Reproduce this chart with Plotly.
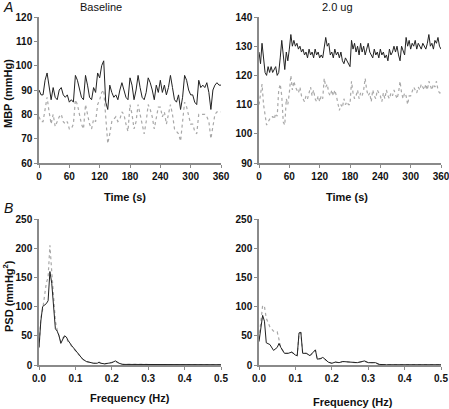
import numpy as np
import plotly.graph_objects as go

# ---------------- data ----------------
time_base = np.arange(0, 361, 4)
base_solid = [90,88,88,94,97,91,86,91,87,86,
              90,91,88,87,88,85,86,85,96,94,
              90,87,86,96,92,87,86,91,89,97,
              95,100,102,85,82,92,89,87,88,86,
              90,93,90,87,86,95,92,86,90,96,
              91,87,86,89,95,93,90,86,92,89,
              94,89,92,88,91,96,91,86,85,88,
              82,87,96,94,90,88,88,85,84,94,
              91,92,91,93,89,82,90,92,93,92,
              92]
base_dot = [79,77,77,83,87,81,76,80,75,77,
            79,80,77,76,77,74,74,76,86,84,
            80,76,74,84,80,76,74,78,77,84,
            86,89,90,77,68,72,77,78,79,77,
            78,81,80,76,73,84,80,74,77,84,
            80,75,72,77,84,82,79,74,78,83,
            83,79,81,76,80,84,80,74,73,72,
            69,76,85,83,79,76,76,73,72,80,
            80,80,80,79,77,70,76,80,81,81,
            81]

time_dose = np.arange(0, 361, 3)
dose_solid = [128,124,131,125,121,120,123,121,123,121,
              122,123,120,121,126,132,127,122,128,125,
              129,134,130,132,130,131,129,130,128,129,
              127,128,126,129,127,128,126,129,127,128,
              126,127,126,129,133,130,131,127,128,126,
              129,127,128,126,128,125,124,126,125,124,
              123,132,129,131,128,130,127,131,128,130,
              127,129,131,128,127,126,129,127,128,126,
              129,127,128,126,127,125,129,127,128,130,
              128,130,127,125,130,128,127,133,130,132,
              129,131,130,132,129,131,130,129,131,130,
              129,131,134,130,131,129,132,131,133,130,
              129]
dose_dot = [110,113,117,110,106,103,104,105,105,106,
            105,107,106,115,117,113,104,103,112,110,
            114,120,115,118,116,115,114,116,113,112,
            111,113,112,114,116,113,115,112,111,113,
            111,113,112,119,116,117,114,113,115,113,
            115,113,111,108,110,109,112,110,111,110,
            110,118,114,112,113,115,112,114,113,115,
            119,115,113,114,111,115,113,112,115,114,
            113,111,114,112,115,113,112,114,113,115,
            113,112,114,118,114,112,114,113,110,113,
            113,115,116,115,114,116,115,117,116,115,
            117,115,118,116,115,117,116,118,115,114,
            114]

freq_base = [0,0.005,0.01,0.02,0.025,0.03,0.035,0.04,0.045,0.05,0.055,0.06,0.065,0.07,0.075,
             0.08,0.09,0.1,0.11,0.12,0.13,0.14,0.15,0.16,0.165,0.17,0.18,0.19,0.2,0.21,0.22,
             0.23,0.25,0.3,0.35,0.4,0.45,0.5]
psd_base_solid = [30,75,100,105,110,160,140,100,62,58,50,37,45,50,48,
                  42,33,25,17,10,6,4,3,3,5,3,2,3,4,7,3,
                  1,1,1,0.8,0.5,0.5,0.5]
psd_base_dot = [30,80,95,140,150,205,160,110,75,60,50,40,46,48,46,
                40,32,24,16,10,6,4,3,3,4,3,2,3,4,6,3,
                1,1,1,0.8,0.5,0.5,0.5]

freq_dose = [0,0.005,0.01,0.015,0.02,0.03,0.04,0.05,0.055,0.06,0.07,0.08,0.09,0.1,0.105,
             0.11,0.115,0.12,0.13,0.14,0.15,0.155,0.16,0.17,0.175,0.18,0.19,0.2,0.21,0.22,
             0.23,0.25,0.27,0.29,0.3,0.32,0.33,0.35,0.4,0.45,0.5]
psd_dose_solid = [40,60,85,75,38,35,25,30,37,30,20,20,22,17,16,
                  55,56,20,20,16,22,26,10,11,13,11,5,3,5,4,
                  6,5,4,7,4,4,1,0.5,0.5,0.5,0.5]
psd_dose_dot = [45,80,102,100,80,65,58,57,40,30,20,20,22,17,16,
                54,55,20,20,16,21,25,10,11,12,10,5,3,5,4,
                6,5,4,6,4,4,1,0.5,0.5,0.5,0.5]

# ---------------- figure ----------------
W, H = 449, 409
def px_x(p): return p / W
def px_y(p): return 1 - p / H

FONT = "Liberation Sans, Arial"
SOLID = dict(color="#222222", width=1)
DOT = dict(color="#a8a8a8", width=1.2, dash="dot")

fig = go.Figure()
panels = [
    ("x", "y", time_base, base_solid, base_dot),
    ("x2", "y2", time_dose, dose_solid, dose_dot),
    ("x3", "y3", freq_base, psd_base_solid, psd_base_dot),
    ("x4", "y4", freq_dose, psd_dose_solid, psd_dose_dot),
]
for xa, ya, xs, s1, s2 in panels:
    fig.add_trace(go.Scatter(x=xs, y=s2, mode="lines", line=DOT, xaxis=xa, yaxis=ya,
                             showlegend=False, hoverinfo="skip"))
    fig.add_trace(go.Scatter(x=xs, y=s1, mode="lines", line=SOLID, xaxis=xa, yaxis=ya,
                             showlegend=False, hoverinfo="skip"))

tickfont = dict(family=FONT, size=10, color="#111", weight="bold")
axis_common = dict(showgrid=False, zeroline=False, showline=True, linecolor="#8a8a8a", linewidth=1.5,
                   ticks="outside", ticklen=3, tickcolor="#8a8a8a", tickwidth=1, tickfont=tickfont,
                   automargin=False, ticklabeloverflow="allow")

xl = (px_x(39), px_x(221))
xr = (px_x(259), px_x(441))
yt = (px_y(163), px_y(17))
yb = (px_y(365), px_y(219))

fig.update_layout(
    width=W, height=H, margin=dict(l=0, r=0, t=0, b=0),
    paper_bgcolor="white", plot_bgcolor="white",
    xaxis=dict(domain=xl, anchor="y", range=[0, 360], tickvals=[0,60,120,180,240,300,360], **axis_common),
    yaxis=dict(domain=yt, anchor="x", range=[60, 120], dtick=10, **axis_common),
    xaxis2=dict(domain=xr, anchor="y2", range=[0, 360], tickvals=[0,60,120,180,240,300,360], **axis_common),
    yaxis2=dict(domain=yt, anchor="x2", range=[90, 140], dtick=10, **axis_common),
    xaxis3=dict(domain=xl, anchor="y3", range=[0, 0.5], dtick=0.1, tickformat=".1f", **axis_common),
    yaxis3=dict(domain=yb, anchor="x3", range=[0, 250], dtick=50, **axis_common),
    xaxis4=dict(domain=xr, anchor="y4", range=[0, 0.5], dtick=0.1, tickformat=".1f", **axis_common),
    yaxis4=dict(domain=yb, anchor="x4", range=[0, 250], dtick=50, **axis_common),
)

def ann(text, x, y, size=11, bold=True, italic=False, angle=0):
    fig.add_annotation(text=text, x=px_x(x), y=px_y(y), xref="paper", yref="paper",
                       showarrow=False, textangle=angle, xanchor="center", yanchor="middle",
                       font=dict(family=FONT, size=size, color="#111",
                                 weight="bold" if bold else "normal",
                                 style="italic" if italic else "normal"))

ann("Baseline", 101, 7, size=11, bold=False)
ann("2.0 ug", 337, 7, size=11, bold=False)
ann("A", 8, 7, size=14, bold=False, italic=True)
ann("B", 8, 208, size=14, bold=False, italic=True)
ann("Time (s)", 125, 197, size=11)
ann("Time (s)", 347, 197, size=11)
ann("Frequency (Hz)", 130, 398, size=11)
ann("Frequency (Hz)", 353, 402, size=11)
ann("MBP (mmHg)", 8, 94, size=11, angle=-90)
ann("PSD (mmHg<sup>2</sup>)", 8, 296, size=11, angle=-90)

fig.write_html("out.html", config={"displayModeBar": False},
               post_script="document.body.style.margin='0';document.body.style.overflow='hidden';")
